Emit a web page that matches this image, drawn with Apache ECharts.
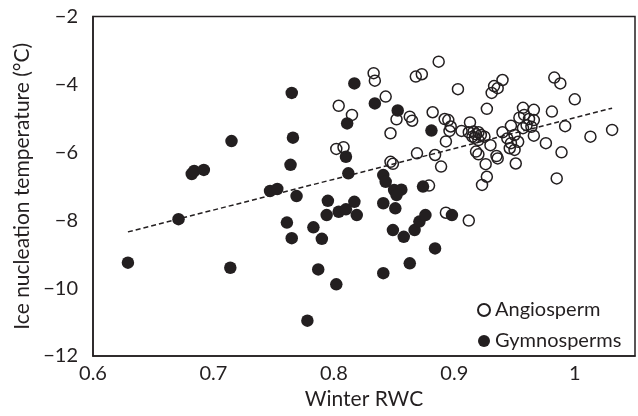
<!DOCTYPE html>
<html>
<head>
<meta charset="utf-8">
<script src="https://cdn.jsdelivr.net/npm/echarts@6/dist/echarts.min.js"></script>
<style>html,body{margin:0;padding:0;background:#fff}#c{width:638px;height:416px}</style>
</head>
<body>
<div id="c"></div>
<script>
const angioX = [0.802,0.808,0.804,0.815,0.833,0.834,0.843,0.847,0.847,0.849,0.852,0.863,0.865,0.868,0.873,0.869,0.879,0.882,0.887,0.884,0.889,0.892,0.895,0.897,0.896,0.893,0.903,0.906,0.893,0.912,0.913,0.912,0.916,0.918,0.920,0.922,0.917,0.915,0.920,0.925,0.930,0.918,0.920,0.926,0.927,0.923,0.927,0.931,0.933,0.936,0.940,0.935,0.936,0.940,0.947,0.944,0.947,0.946,0.950,0.953,0.950,0.951,0.957,0.966,0.954,0.958,0.962,0.966,0.960,0.964,0.957,0.966,0.976,0.981,0.983,0.988,1.000,0.992,0.989,0.985,1.013,1.031];
const angioY = [-5.90,-5.85,-4.63,-4.90,-3.67,-3.89,-4.36,-5.44,-6.28,-6.34,-5.03,-4.95,-5.07,-3.77,-3.70,-6.03,-6.98,-4.82,-3.33,-6.08,-6.42,-5.02,-5.05,-5.24,-5.37,-5.68,-4.14,-5.37,-7.78,-8.01,-5.12,-5.41,-5.39,-5.47,-5.41,-5.49,-5.57,-5.54,-5.64,-5.54,-5.79,-5.98,-6.06,-6.35,-6.72,-6.96,-4.72,-4.25,-4.05,-4.11,-3.87,-6.11,-6.18,-5.41,-5.22,-5.59,-5.73,-5.88,-5.93,-5.69,-5.49,-6.33,-4.69,-4.75,-4.98,-4.90,-5.02,-5.05,-5.20,-5.25,-5.29,-5.51,-5.73,-4.80,-3.80,-3.97,-4.44,-5.23,-6.00,-6.77,-5.54,-5.34];
const gymnoX = [0.629,0.671,0.682,0.684,0.692,0.715,0.714,0.747,0.753,0.765,0.766,0.764,0.769,0.761,0.765,0.783,0.790,0.787,0.778,0.795,0.794,0.804,0.810,0.817,0.819,0.802,0.811,0.810,0.812,0.817,0.834,0.841,0.843,0.841,0.851,0.850,0.856,0.852,0.853,0.849,0.858,0.867,0.871,0.876,0.874,0.841,0.863,0.881,0.884,0.898];
const gymnoY = [-9.25,-7.97,-6.64,-6.55,-6.52,-5.67,-9.40,-7.14,-7.08,-4.25,-5.57,-6.37,-7.29,-8.07,-8.53,-8.21,-8.55,-9.45,-10.96,-7.43,-7.85,-7.75,-7.68,-7.46,-7.85,-9.89,-5.15,-6.13,-6.62,-3.97,-4.56,-6.67,-6.87,-7.50,-7.65,-7.11,-7.10,-7.26,-4.77,-8.29,-8.49,-8.29,-8.04,-7.85,-7.01,-9.56,-9.27,-5.36,-8.83,-7.85];
const seriesNames = ['Angiosperm','Gymnosperms'];
const xTicks = [0.6,0.7,0.8,0.9,1.0];
const yTicks = [-12,-10,-8,-6,-4,-2];

const angio = angioX.map((x,i)=>[x,angioY[i]]);
const gymno = gymnoX.map((x,i)=>[x,gymnoY[i]]);
const all = angio.concat(gymno);
const n = all.length;
let sx=0,sy=0,sxx=0,sxy=0;
all.forEach(([x,y])=>{sx+=x;sy+=y;sxx+=x*x;sxy+=x*y;});
const slope=(n*sxy-sx*sy)/(n*sxx-sx*sx);
const icpt=(sy-slope*sx)/n;
const xmin=Math.min(...all.map(p=>p[0])), xmax=Math.max(...all.map(p=>p[0]));
const trend=[[xmin,icpt+slope*xmin],[xmax,icpt+slope*xmax]];

const font = 'Lato';
const ink = '#231f20';
const chart = echarts.init(document.getElementById('c'), null, {renderer:'canvas'});
chart.setOption({
  animation:false,
  backgroundColor:'#fff',
  grid:{left:93,top:16.5,width:551,height:339.5,show:true,borderColor:ink,borderWidth:1.5,containLabel:false},
  xAxis:{type:'value',min:0.6,max:1.05,interval:0.1,
    name:'Winter RWC',nameLocation:'middle',nameGap:28,
    nameTextStyle:{fontFamily:font,fontSize:21,color:ink},
    axisLine:{show:true,lineStyle:{color:ink,width:1.5}},
    axisTick:{show:false},splitLine:{show:false},
    axisLabel:{fontFamily:font,fontSize:20,color:ink,margin:8,
      formatter:v=>{const m=xTicks.find(t=>Math.abs(t-v)<1e-6);return m===undefined?'':String(+m.toFixed(1));}}},
  yAxis:{type:'value',min:-12,max:-2,interval:2,
    name:'Ice nucleation temperature (°C)',nameLocation:'middle',nameGap:60,
    nameTextStyle:{fontFamily:font,fontSize:21,color:ink},
    axisLine:{show:true,lineStyle:{color:ink,width:1.5}},
    axisTick:{show:false},splitLine:{show:false},
    axisLabel:{fontFamily:font,fontSize:20,color:ink,margin:15,
      formatter:v=>yTicks.includes(v)?String(v).replace('-','\u2212'):''}},
  legend:{data:seriesNames,orient:'vertical',left:472,top:295,itemWidth:12,itemHeight:12,itemGap:11,
    icon:'circle',textStyle:{fontFamily:font,fontSize:20,color:ink}},
  series:[
    {name:'trend',type:'line',data:trend,symbol:'none',silent:true,z:1,
      lineStyle:{color:ink,width:1.5,type:[5,3]}},
    {name:seriesNames[0],type:'scatter',data:angio,symbol:'circle',symbolSize:11,z:3,
      itemStyle:{color:'rgba(255,255,255,0)',borderColor:ink,borderWidth:1.5,opacity:1}},
    {name:seriesNames[1],type:'scatter',data:gymno,symbol:'circle',symbolSize:12.5,z:2,
      itemStyle:{color:ink,borderColor:ink,borderWidth:0,opacity:1}}
  ]
});
</script>
</body>
</html>
